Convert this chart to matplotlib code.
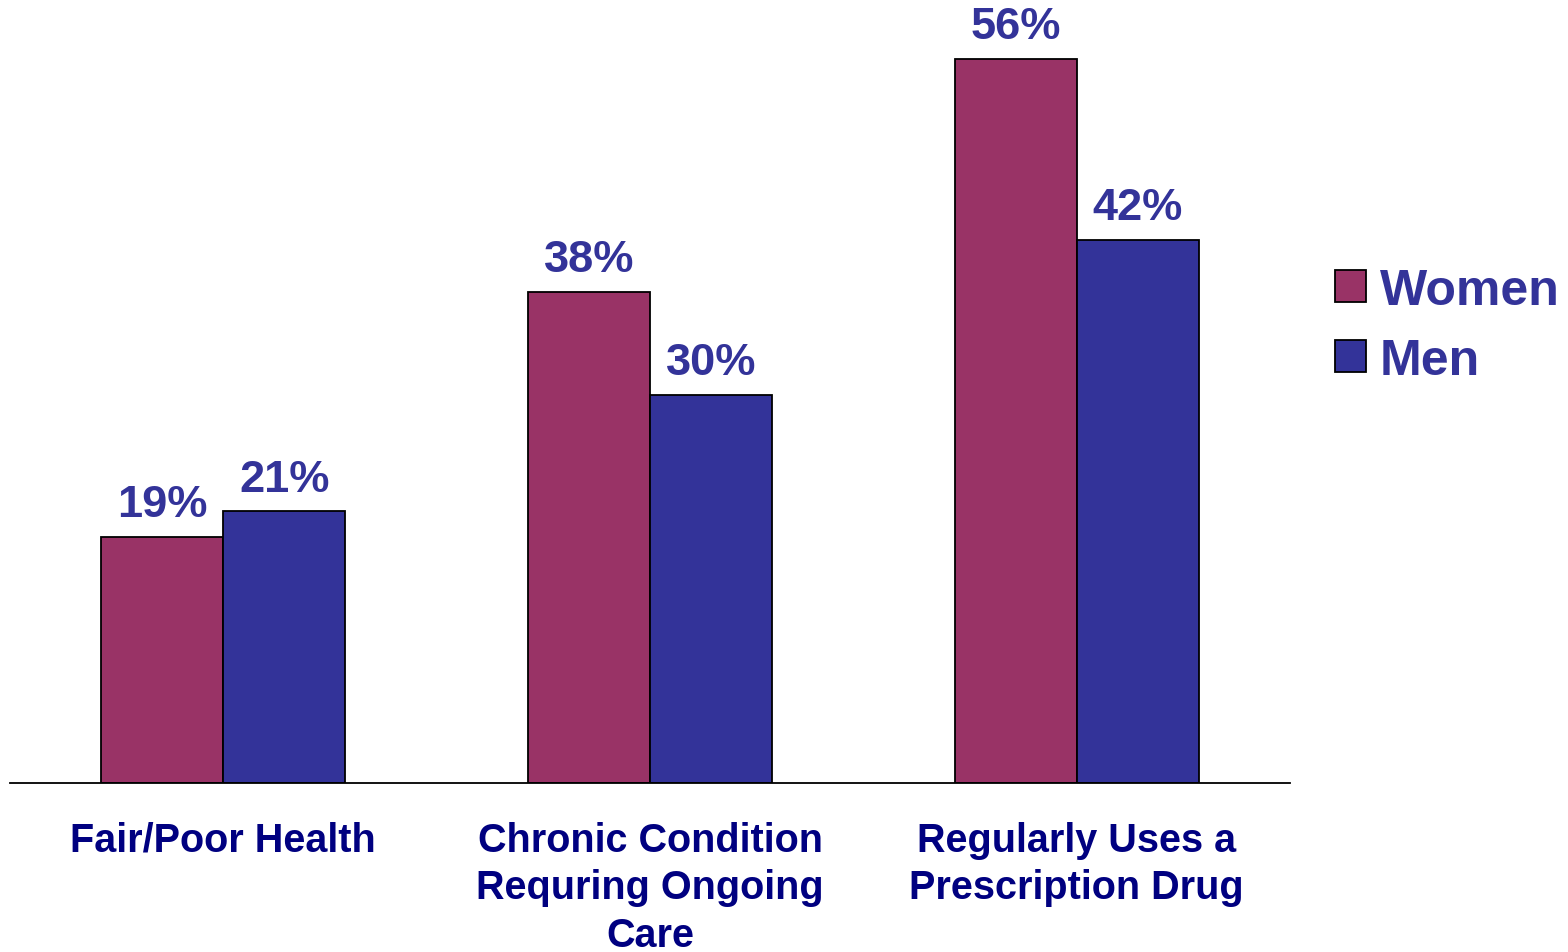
import matplotlib
matplotlib.use('Agg')
import matplotlib.pyplot as plt
import matplotlib.patches as mpatches
import matplotlib.transforms as mtransforms
import numpy as np

plt.rcParams['font.family'] = ['Liberation Sans', 'DejaVu Sans']
plt.rcParams['font.weight'] = 'bold'

categories = ['Fair/Poor Health', 'Chronic Condition\nRequring Ongoing\nCare',
              'Regularly Uses a\nPrescription Drug']
women = [19, 38, 56]
men = [21, 30, 42]
series_names = ['Women', 'Men']

women_color = '#993366'
men_color = '#333399'
label_color = '#333399'
cat_color = '#000080'

fig = plt.figure(figsize=(15.68, 9.53), dpi=100)
ax = fig.add_axes([10/1568, (953-784)/953, 1280/1568, 775.8/953])

X = np.arange(len(categories))
w = 0.286
rects1 = ax.bar(X - w/2, women, width=w, color=women_color, edgecolor='black', linewidth=1.3)
rects2 = ax.bar(X + w/2, men, width=w, color=men_color, edgecolor='black', linewidth=1.3)

def autolabel(rects):
    for rect in rects:
        height = rect.get_height()
        ax.annotate('{}%'.format(height),
                    xy=(rect.get_x() + rect.get_width() / 2, height),
                    xytext=(0, 15), textcoords="offset points",
                    ha='center', va='baseline', fontsize=32.5,
                    fontweight='bold', color=label_color)

autolabel(rects1)
autolabel(rects2)

ax.set_xlim(-0.5, 2.5)
ax.set_ylim(0, 60)
for s in ['top', 'right', 'left']:
    ax.spines[s].set_visible(False)
ax.spines['bottom'].set_linewidth(1.3)
ax.set_yticks([])
ax.set_xticks([])

trans = mtransforms.blended_transform_factory(ax.transData, fig.transFigure)
for i, cat in enumerate(categories):
    ax.text(X[i], 1 - 822/953, cat, transform=trans, ha='center', va='top',
            fontsize=28.5, fontweight='bold', color=cat_color, linespacing=1.31)

handles = [mpatches.Patch(facecolor=women_color, edgecolor='black', linewidth=1.3),
           mpatches.Patch(facecolor=men_color, edgecolor='black', linewidth=1.3)]
leg = fig.legend(handles, series_names, loc='center left',
                 bbox_to_anchor=(1335/1568, 1 - 327/953), frameon=False,
                 fontsize=36, handlelength=0.61, handleheight=0.61,
                 handletextpad=0.28, labelspacing=0.48, borderpad=0, borderaxespad=0)
for t in leg.get_texts():
    t.set_color(label_color)
    t.set_fontweight('bold')

fig.savefig('out.png', dpi=100)
